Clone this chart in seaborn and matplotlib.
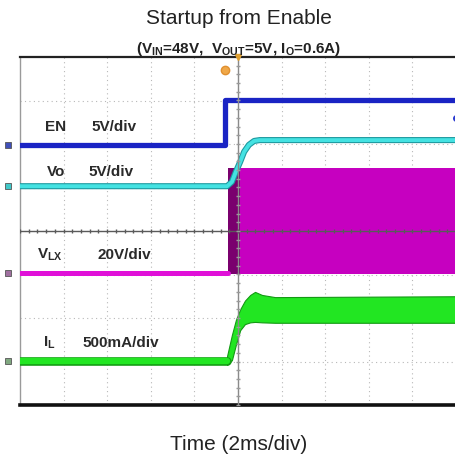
import numpy as np
import matplotlib
matplotlib.use("Agg")
import matplotlib.pyplot as plt
import seaborn as sns

# time in divisions (2 ms/div), amplitude in screen divisions
en_t = [0, 4.70, 4.70, 10]
en_v = [1.98, 1.98, 3.01, 3.01]

vo_t = [0, 4.75, 4.86, 4.95, 5.05, 5.14, 5.25, 5.37, 5.50, 10]
vo_v = [1.03, 1.03, 1.13, 1.36, 1.59, 1.82, 1.98, 2.07, 2.09, 2.09]

vlx_t_off = [0, 4.77]
vlx_off = [-0.97, -0.97]
vlx_t_sw = [4.77, 10]
vlx_hi = [1.45, 1.45]
vlx_lo = [-0.99, -0.99]

il_t_off = [0, 4.75]
il_off = [-2.99, -2.99]
il_t_sw = [4.75, 4.86, 4.95, 5.05, 5.16, 5.28, 5.39, 5.55, 5.85, 10]
il_hi = [-2.87, -2.39, -2.05, -1.80, -1.60, -1.47, -1.40, -1.47, -1.52, -1.50]
il_lo = [-3.08, -2.97, -2.62, -2.28, -2.14, -2.10, -2.09, -2.10, -2.11, -2.11]

ch_names = ["EN", "Vo", "V$_{\\mathbf{LX}}$", "I$_{\\mathbf{L}}$"]
ch_scales = ["5V/div", "5V/div", "20V/div", "500mA/div"]
ch_ground = [1.98, 1.03, -0.97, -2.99]

sns.set_style("white")
plt.rcParams["font.family"] = ["Liberation Sans", "DejaVu Sans"]
plt.rcParams["mathtext.fontset"] = "custom"
plt.rcParams["mathtext.rm"] = "Liberation Sans"
plt.rcParams["mathtext.bf"] = "Liberation Sans:bold"

W, H = 456, 463
fig = plt.figure(figsize=(W / 100, H / 100), dpi=100)
ax = fig.add_axes([20 / W, 1 - 405 / H, (W - 20) / W, (405 - 57) / H])
ax.set_xlim(0, 10)
ax.set_ylim(-4, 4)
ax.set_xticks([])
ax.set_yticks([])

# graticule
for gx in range(1, 10):
    ax.axvline(gx, color="#b8b8b8", lw=0.8, ls=(0, (1, 3)), zorder=0)
for gy in range(-3, 4):
    ax.axhline(gy, color="#b8b8b8", lw=0.8, ls=(0, (1, 3)), zorder=0)
ax.axvline(5, color="#8a8a8a", lw=1.0, zorder=6)
ax.axhline(0, color="#5a5a5a", lw=1.0, zorder=6)
minor = np.arange(0, 10.01, 0.2)
ax.plot(minor, np.zeros_like(minor), ls="none", marker="|", ms=3.5, color="#5a5a5a", zorder=6)
minor_y = np.arange(-4, 4.01, 0.2)
ax.plot(np.full_like(minor_y, 5), minor_y, ls="none", marker="_", ms=3, color="#9a9a9a", zorder=6)

ax.spines["left"].set_color("#9a9a9a")
ax.spines["left"].set_linewidth(1.0)
ax.spines["top"].set_color("#222222")
ax.spines["top"].set_linewidth(1.6)
ax.spines["bottom"].set_color("#111111")
ax.spines["bottom"].set_linewidth(2.6)
ax.spines["right"].set_visible(False)

# VLX switching block
ax.fill_between(vlx_t_sw, vlx_lo, vlx_hi, color="#c600c0", lw=0, zorder=2)
ax.fill_between([vlx_t_sw[0], vlx_t_sw[0] + 0.27], vlx_lo[:1] * 2, vlx_hi[:1] * 2,
                color="#7a006e", lw=0, zorder=2)
sns.lineplot(x=vlx_t_off, y=vlx_off, ax=ax, color="#e010d8", lw=3.6,
             estimator=None, sort=False, zorder=3)

# IL envelope
ax.fill_between(il_t_sw, il_lo, il_hi, color="#22e622", edgecolor="#139a13", lw=0.8, zorder=3)
sns.lineplot(x=il_t_off, y=il_off, ax=ax, color="#139a13", lw=6.2,
             estimator=None, sort=False, zorder=3)
sns.lineplot(x=il_t_off, y=il_off, ax=ax, color="#22e622", lw=4.6,
             estimator=None, sort=False, zorder=3)

# Vo
sns.lineplot(x=vo_t, y=vo_v, ax=ax, color="#1e9aa0", lw=4.4,
             estimator=None, sort=False, zorder=4)
sns.lineplot(x=vo_t, y=vo_v, ax=ax, color="#44e2e2", lw=2.8,
             estimator=None, sort=False, zorder=4)

# EN
sns.lineplot(x=en_t, y=en_v, ax=ax, color="#1a24c4", lw=3.8,
             estimator=None, sort=False, zorder=5)

# channel markers and trigger markers
mk_colors = ["#4050b8", "#40c8c8", "#a070a0", "#80a880"]
for g, c in zip(ch_ground, mk_colors):
    ax.plot([-0.28], [g], marker="s", ms=5, color=c, mec="#555555", mew=0.6, clip_on=False, zorder=7)
ax.plot([4.70], [3.70], marker="o", ms=6, color="#f0a848", mec="#e09030", clip_on=False, zorder=7)
ax.plot([5.0], [4.0], marker="v", ms=4, color="#e0a030", clip_on=False, zorder=7)
ax.plot([10], [2.6], marker="o", ms=4, color="#2a3ad0", clip_on=False, zorder=7)

# channel labels
name_pos = [(0.57, 2.38), (0.62, 1.36), (0.39, -0.55), (0.53, -2.57)]
scale_x = [1.65, 1.56, 1.77, 1.44]
for name, scale, (nx, ny), sx in zip(ch_names, ch_scales, name_pos, scale_x):
    ax.text(nx, ny, name, fontsize=11, fontweight="bold", color="#2a2a2a",
            va="center", ha="left", zorder=8)
    ax.text(sx, ny, scale, fontsize=11, fontweight="bold", color="#2a2a2a",
            va="center", ha="left", zorder=8)

fig.text(239 / W, 1 - 19 / H, "Startup from Enable", fontsize=15, color="#222222",
         ha="center", va="center")
fig.text(239 / W, 1 - 49 / H,
         "(V$_{\\mathbf{IN}}$=48V,  V$_{\\mathbf{OUT}}$=5V, I$_{\\mathbf{O}}$=0.6A)",
         fontsize=11, fontweight="bold", color="#222222", ha="center", va="center")
fig.text(239 / W, 1 - 445 / H, "Time (2ms/div)", fontsize=15, color="#222222",
         ha="center", va="center")

fig.savefig("out.png", dpi=100)
